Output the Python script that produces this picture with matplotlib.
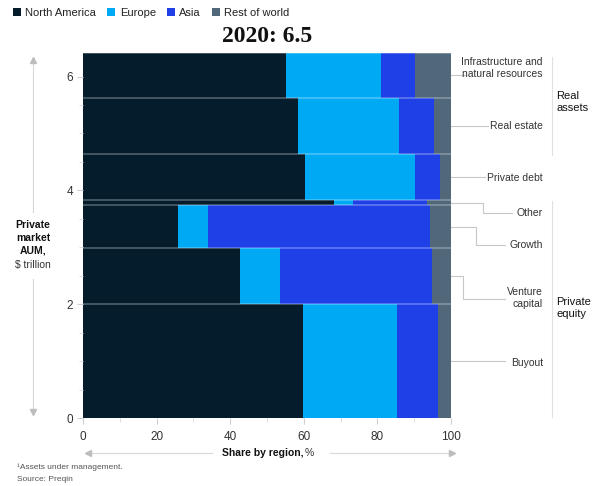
import matplotlib.pyplot as plt
import numpy as np
from matplotlib.patches import Patch
from matplotlib.ticker import MultipleLocator

plt.rcParams['font.family'] = ['Liberation Sans', 'DejaVu Sans']

# Data
asset_classes = ['Buyout', 'Venture\ncapital', 'Growth', 'Other', 'Private debt',
                 'Real estate', 'Infrastructure and\nnatural resources']
aum = [2.01, 0.98, 0.75, 0.09, 0.81, 0.98, 0.80]
north_america = [59.7, 42.6, 25.8, 68.1, 60.3, 58.3, 55.3]
europe = [25.6, 11.0, 8.1, 5.2, 30.0, 27.5, 25.6]
asia = [11.2, 41.3, 60.4, 20.1, 6.8, 9.6, 9.3]
rest_of_world = [3.5, 5.1, 5.7, 6.6, 2.9, 4.6, 9.8]
regions = ['North America', 'Europe', 'Asia', 'Rest of world']
colors = ['#051c2c', '#00a9f4', '#1f40e6', '#50687a']

shares = [north_america, europe, asia, rest_of_world]
bottoms = np.concatenate([[0], np.cumsum(aum)[:-1]])
centers = bottoms + np.array(aum) / 2

fig = plt.figure(figsize=(6, 4.86), dpi=100)
ax = fig.add_axes([0.1383, 0.1399, 0.6133, 0.7525])

# Stacked mekko-style bars
left = np.zeros(len(aum))
for vals, c in zip(shares, colors):
    ax.barh(bottoms, vals, height=aum, left=left, align='edge', color=c,
            edgecolor='none', linewidth=0)
    left += np.array(vals)

# thin separators between asset classes
for b in list(bottoms[1:]) + [bottoms[-1] + aum[-1]]:
    ax.axhline(b, xmin=0, xmax=1, color='white', alpha=0.32, lw=1.1)

ax.set_xlim(0, 100)
ax.set_ylim(0, 6.427)
for s in ax.spines.values():
    s.set_visible(False)
ax.set_xticks([0, 20, 40, 60, 80, 100])
ax.set_yticks([0, 2, 4, 6])
ax.xaxis.set_minor_locator(MultipleLocator(10))
ax.yaxis.set_minor_locator(MultipleLocator(0.5))
ax.tick_params(axis='both', which='major', color='#cfcfcf', labelcolor='#333333',
               labelsize=8.5, length=4, width=0.8)
ax.tick_params(axis='both', which='minor', color='#dcdcdc', length=3, width=0.7)
ax.tick_params(axis='y', which='major', pad=3)
ax.tick_params(axis='x', which='major', pad=5)

# Leader lines and labels on the right
# (label y, line y, bend x, end x)
leaders = [
    (0.97, None, 114.7, 114.7),
    (2.11, 2.10, 103.3, 114.7),
    (3.04, 3.04, 106.7, 114.7),
    (3.61, 3.61, 108.8, 116.7),
    (4.21, None, 109.2, 109.2),
    (5.13, None, 110.0, 110.0),
    (6.15, None, 103.8, 103.8),
]
gray = '#c8c8c8'
for name, c, (ty, ly, bx, ex) in zip(asset_classes, centers, leaders):
    if ly is None:
        ly = c
    ax.plot([100, bx, bx, ex], [c, c, ly, ly], color=gray, lw=0.8, clip_on=False)
    ax.text(125.0, ty, name, ha='right', va='center', multialignment='right',
            fontsize=7.5, color='#333333', linespacing=1.15)

# group brackets
ax.plot([127.4, 127.4], [4.62, 6.35], color='#e0e0e0', lw=0.8, clip_on=False)
ax.plot([127.4, 127.4], [0.02, 3.82], color='#e0e0e0', lw=0.8, clip_on=False)
ax.text(128.7, 5.55, 'Real\nassets', ha='left', va='center', fontsize=8,
        color='#111111', linespacing=1.3)
ax.text(128.7, 1.93, 'Private\nequity', ha='left', va='center', fontsize=8,
        color='#111111', linespacing=1.3)

# Title
fig.text(267 / 600, 1 - 37 / 486, '2020: 6.5', ha='center', va='center',
         fontsize=17, fontweight='bold', family='Liberation Serif', color='#111111')

# Legend
handles = [Patch(facecolor=c, edgecolor='none') for c in colors]
fig.legend(handles, regions, loc='center left', bbox_to_anchor=(0.022, 1 - 13 / 486),
           ncol=4, frameon=False, fontsize=8, handlelength=0.7, handleheight=0.7,
           handletextpad=0.4, columnspacing=1.0, borderaxespad=0, borderpad=0,
           labelcolor='#222222')

# Y axis label with arrow
fx = 33 / 600
fig.text(fx, 1 - 237.5 / 486, 'Private\nmarket\nAUM,', ha='center', va='center',
         fontsize=7.5, fontweight='bold', color='#111111', linespacing=1.35)
fig.text(fx, 1 - 264.5 / 486, '$ trillion', ha='center', va='center',
         fontsize=7.5, color='#333333')
fig.add_artist(plt.Line2D([fx, fx], [1 - 62 / 486, 1 - 212 / 486],
                          color='#d8d8d8', lw=0.8))
fig.add_artist(plt.Line2D([fx, fx], [1 - 279 / 486, 1 - 410 / 486],
                          color='#d8d8d8', lw=0.8))
fig.add_artist(plt.Line2D([fx], [1 - 60 / 486], marker='^', color='#bdbdbd', markersize=4))
fig.add_artist(plt.Line2D([fx], [1 - 412 / 486], marker='v', color='#bdbdbd', markersize=4))

# X axis label with arrow
fy = 1 - 453 / 486
fig.text(303 / 600, fy, 'Share by region,', ha='right', va='center',
         fontsize=7.5, fontweight='bold', color='#111111')
fig.text(305 / 600, fy, '%', ha='left', va='center', fontsize=7.5, color='#333333')
fig.add_artist(plt.Line2D([90 / 600, 212 / 600], [fy, fy], color='#d8d8d8', lw=0.8))
fig.add_artist(plt.Line2D([330 / 600, 450 / 600], [fy, fy], color='#d8d8d8', lw=0.8))
fig.add_artist(plt.Line2D([88 / 600], [fy], marker='<', color='#bdbdbd', markersize=4))
fig.add_artist(plt.Line2D([452 / 600], [fy], marker='>', color='#bdbdbd', markersize=4))

# Footnotes
fig.text(17 / 600, 1 - 467 / 486, '\u00b9Assets under management.', ha='left', va='center',
         fontsize=6, color='#555555')
fig.text(17 / 600, 1 - 479 / 486, 'Source: Preqin', ha='left', va='center',
         fontsize=6, color='#555555')

fig.savefig('out.png', dpi=100)
